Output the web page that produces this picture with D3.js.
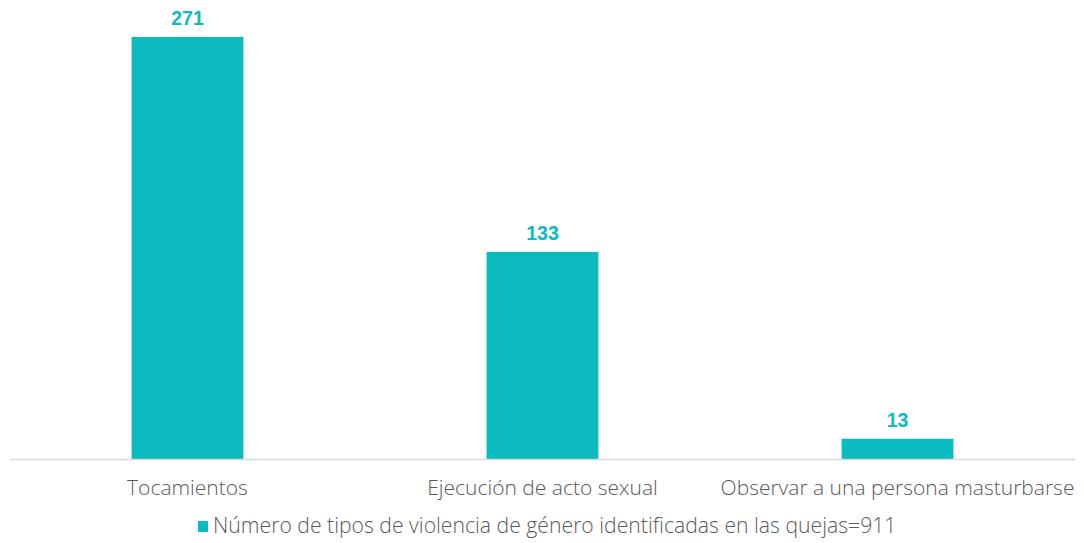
<!DOCTYPE html>
<html><head><meta charset="utf-8">
<script src="https://cdn.jsdelivr.net/npm/d3@7"></script>
<style>body{margin:0;background:#fff}svg{display:block}</style>
</head><body><svg id="c" width="1084" height="543"></svg>
<script>
const categories = ["Tocamientos", "Ejecución de acto sexual", "Observar a una persona masturbarse"];
const values = [271, 133, 13];
const seriesName = "Número de tipos de violencia de género identificadas en las quejas=911";

const svg = d3.select("#c");
const color = "#0BBBBF";
const font = "'Open Sans', sans-serif";
const x = d3.scaleBand().domain(categories).range([10, 1075]).paddingInner(0.685).paddingOuter(0.3425);
const y = d3.scaleLinear().domain([0, 271]).range([459, 37]);

svg.selectAll("rect.bar").data(values).join("rect").attr("class","bar")
  .attr("x", (d,i)=>x(categories[i])).attr("width", x.bandwidth())
  .attr("y", d=>y(d)).attr("height", d=>y(0)-y(d)).attr("fill", color);

const ax = svg.append("g").attr("transform", "translate(0,459)")
  .call(d3.axisBottom(x).tickSize(0).tickPadding(0).tickSizeOuter(0));
ax.select(".domain").attr("stroke", "#d9d9d9").attr("stroke-width", 1.5);
ax.selectAll("text").attr("dy", null).attr("y", 36).attr("font-family", font)
  .attr("font-size", 21).attr("fill", "#595959").attr("font-weight", 300);

svg.selectAll("text.val").data(values).join("text").attr("class","val")
  .attr("x", (d,i)=>x(categories[i]) + x.bandwidth()/2).attr("y", d=>y(d)-12)
  .attr("text-anchor","middle").attr("font-family", "'Liberation Sans', Arial, sans-serif").attr("font-size", 19.5)
  .attr("font-weight","bold").attr("fill", color).text(d=>d);

const lg = svg.append("g");
lg.append("rect").attr("x", 198).attr("y", 521).attr("width", 10).attr("height", 11).attr("fill", color);
lg.append("text").attr("x", 213).attr("y", 533).attr("font-family", font).attr("font-size", 21.2)
  .attr("font-weight", 300).attr("fill", "#595959").text(seriesName);
</script></body></html>
